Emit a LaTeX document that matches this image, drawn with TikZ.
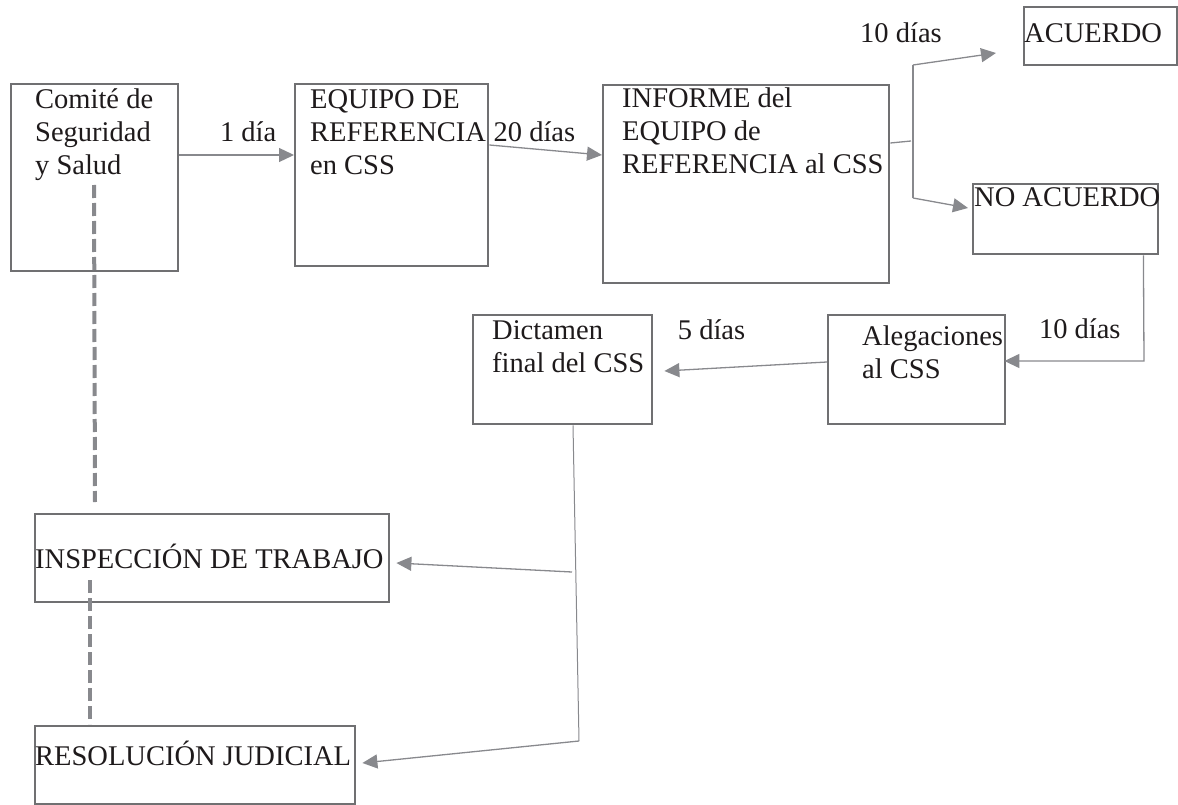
\documentclass[tikz,border=0pt]{standalone}
\usepackage{fontspec}
\setmainfont{Liberation Serif}
\usetikzlibrary{arrows.meta}

\definecolor{boxgray}{RGB}{112,112,114}
\definecolor{arrowgray}{RGB}{136,137,141}
\definecolor{ink}{RGB}{30,26,27}

\begin{document}
\begin{tikzpicture}[x=1pt,y=-1pt,>={Triangle[length=15pt,width=14pt]},
  font=\fontsize{28.5}{33}\selectfont,text=ink,
  box/.style={draw=boxgray,line width=2.4pt,anchor=north west,inner sep=0pt},
  txt/.style={anchor=base west,align=left,inner sep=0pt},
  lbl/.style={anchor=base,inner sep=0pt,text=ink},
  link/.style={color=arrowgray,line width=1.3pt},
  dashlink/.style={draw=arrowgray,line width=4pt,dash pattern=on 13pt off 5pt}]

\useasboundingbox (0,0) rectangle (1178,805);

\node[box,minimum width=167,minimum height=187,
  label={[txt,xshift=25pt,yshift=-92pt]north west:Comité de\\Seguridad\\y Salud}] (css) at (10,83) {};
 \node[box,minimum width=193,minimum height=182,
  label={[txt,xshift=16pt,yshift=-92pt]north west:EQUIPO DE\\REFERENCIA\\en CSS}] (equipo) at (294,83) {};
\node[box,minimum width=286,minimum height=198,
  label={[txt,xshift=20pt,yshift=-90pt]north west:INFORME del\\EQUIPO de\\REFERENCIA al CSS}] (informe) at (602,84) {};
\node[box,minimum width=153,minimum height=58,
  label={[txt,xshift=1pt,yshift=-37pt]north west:ACUERDO}] (acuerdo) at (1023,6) {};
\node[box,minimum width=185,minimum height=70,
  label={[txt,xshift=2pt,yshift=-24pt]north west:NO ACUERDO}] (noacuerdo) at (972,183) {};
\node[box,minimum width=177,minimum height=109,
  label={[txt,xshift=35pt,yshift=-64pt]north west:Alegaciones\\al CSS}] (alegaciones) at (827,314) {};
\node[box,minimum width=179,minimum height=109,
  label={[txt,xshift=20pt,yshift=-58pt]north west:Dictamen\\final del CSS}] (dictamen) at (472,314) {};
\node[box,minimum width=354,minimum height=88,
  label={[txt,xshift=1pt,yshift=-55pt]north west:INSPECCIÓN DE TRABAJO}] (insp) at (34,513) {};
\node[box,minimum width=320,minimum height=78,
  label={[txt,xshift=1pt,yshift=-40pt]north west:RESOLUCIÓN JUDICIAL}] (resol) at (34,725) {};

\coordinate (fk1) at (913,65);
\coordinate (fk2) at (911,141);
\coordinate (fk3) at (913,198);
\coordinate (noturn) at (1144,361);
\coordinate (dtA) at (572,572);
\coordinate (dtB) at (579,741);

\path[->,link] ([yshift=-72pt]css.north east) edge node[lbl,pos=.6,yshift=13pt]{1 día} ([yshift=-72pt]equipo.north west)
	([yshift=-62pt]equipo.north east) edge node[lbl,pos=.4,yshift=7pt]{20 días} ([yshift=-71pt]informe.north west)
  (fk1) edge node[lbl,pos=0,xshift=-12pt,yshift=22pt]{10 días} ([xshift=-27pt,yshift=-47pt]acuerdo.north west)
	(fk3) edge ([xshift=-4pt,yshift=-25pt]noacuerdo.north west)
  ([yshift=-48pt]alegaciones.north west) edge node[lbl,pos=.71,yshift=29pt]{5 días} ([xshift=11pt,yshift=-57pt]dictamen.north east)
	(dtA) edge ([xshift=6pt,yshift=-50pt]insp.north east)
	(dtB) edge ([xshift=6pt,yshift=-38pt]resol.north east);

\draw[link] ([yshift=-59pt]informe.north east) -- (fk2);
\draw[link] (fk1) -- (fk3);
\draw[->,link] ([xshift=-16pt]noacuerdo.south east) -- (noturn) -- node[lbl,pos=.46,yshift=23pt]{10 días} ([xshift=-2pt,yshift=-47pt]alegaciones.north east);
\draw[link,line width=1pt] ([xshift=101pt]dictamen.south west) -- (dtB);

\draw[dashlink] ([xshift=84pt,yshift=-102pt]css.north west) -- ([xshift=61pt,yshift=11pt]insp.north west);
\draw[dashlink] ([xshift=56pt,yshift=-67pt]insp.north west) -- ([xshift=56pt,yshift=1pt]resol.north west);

\end{tikzpicture}
\end{document}
